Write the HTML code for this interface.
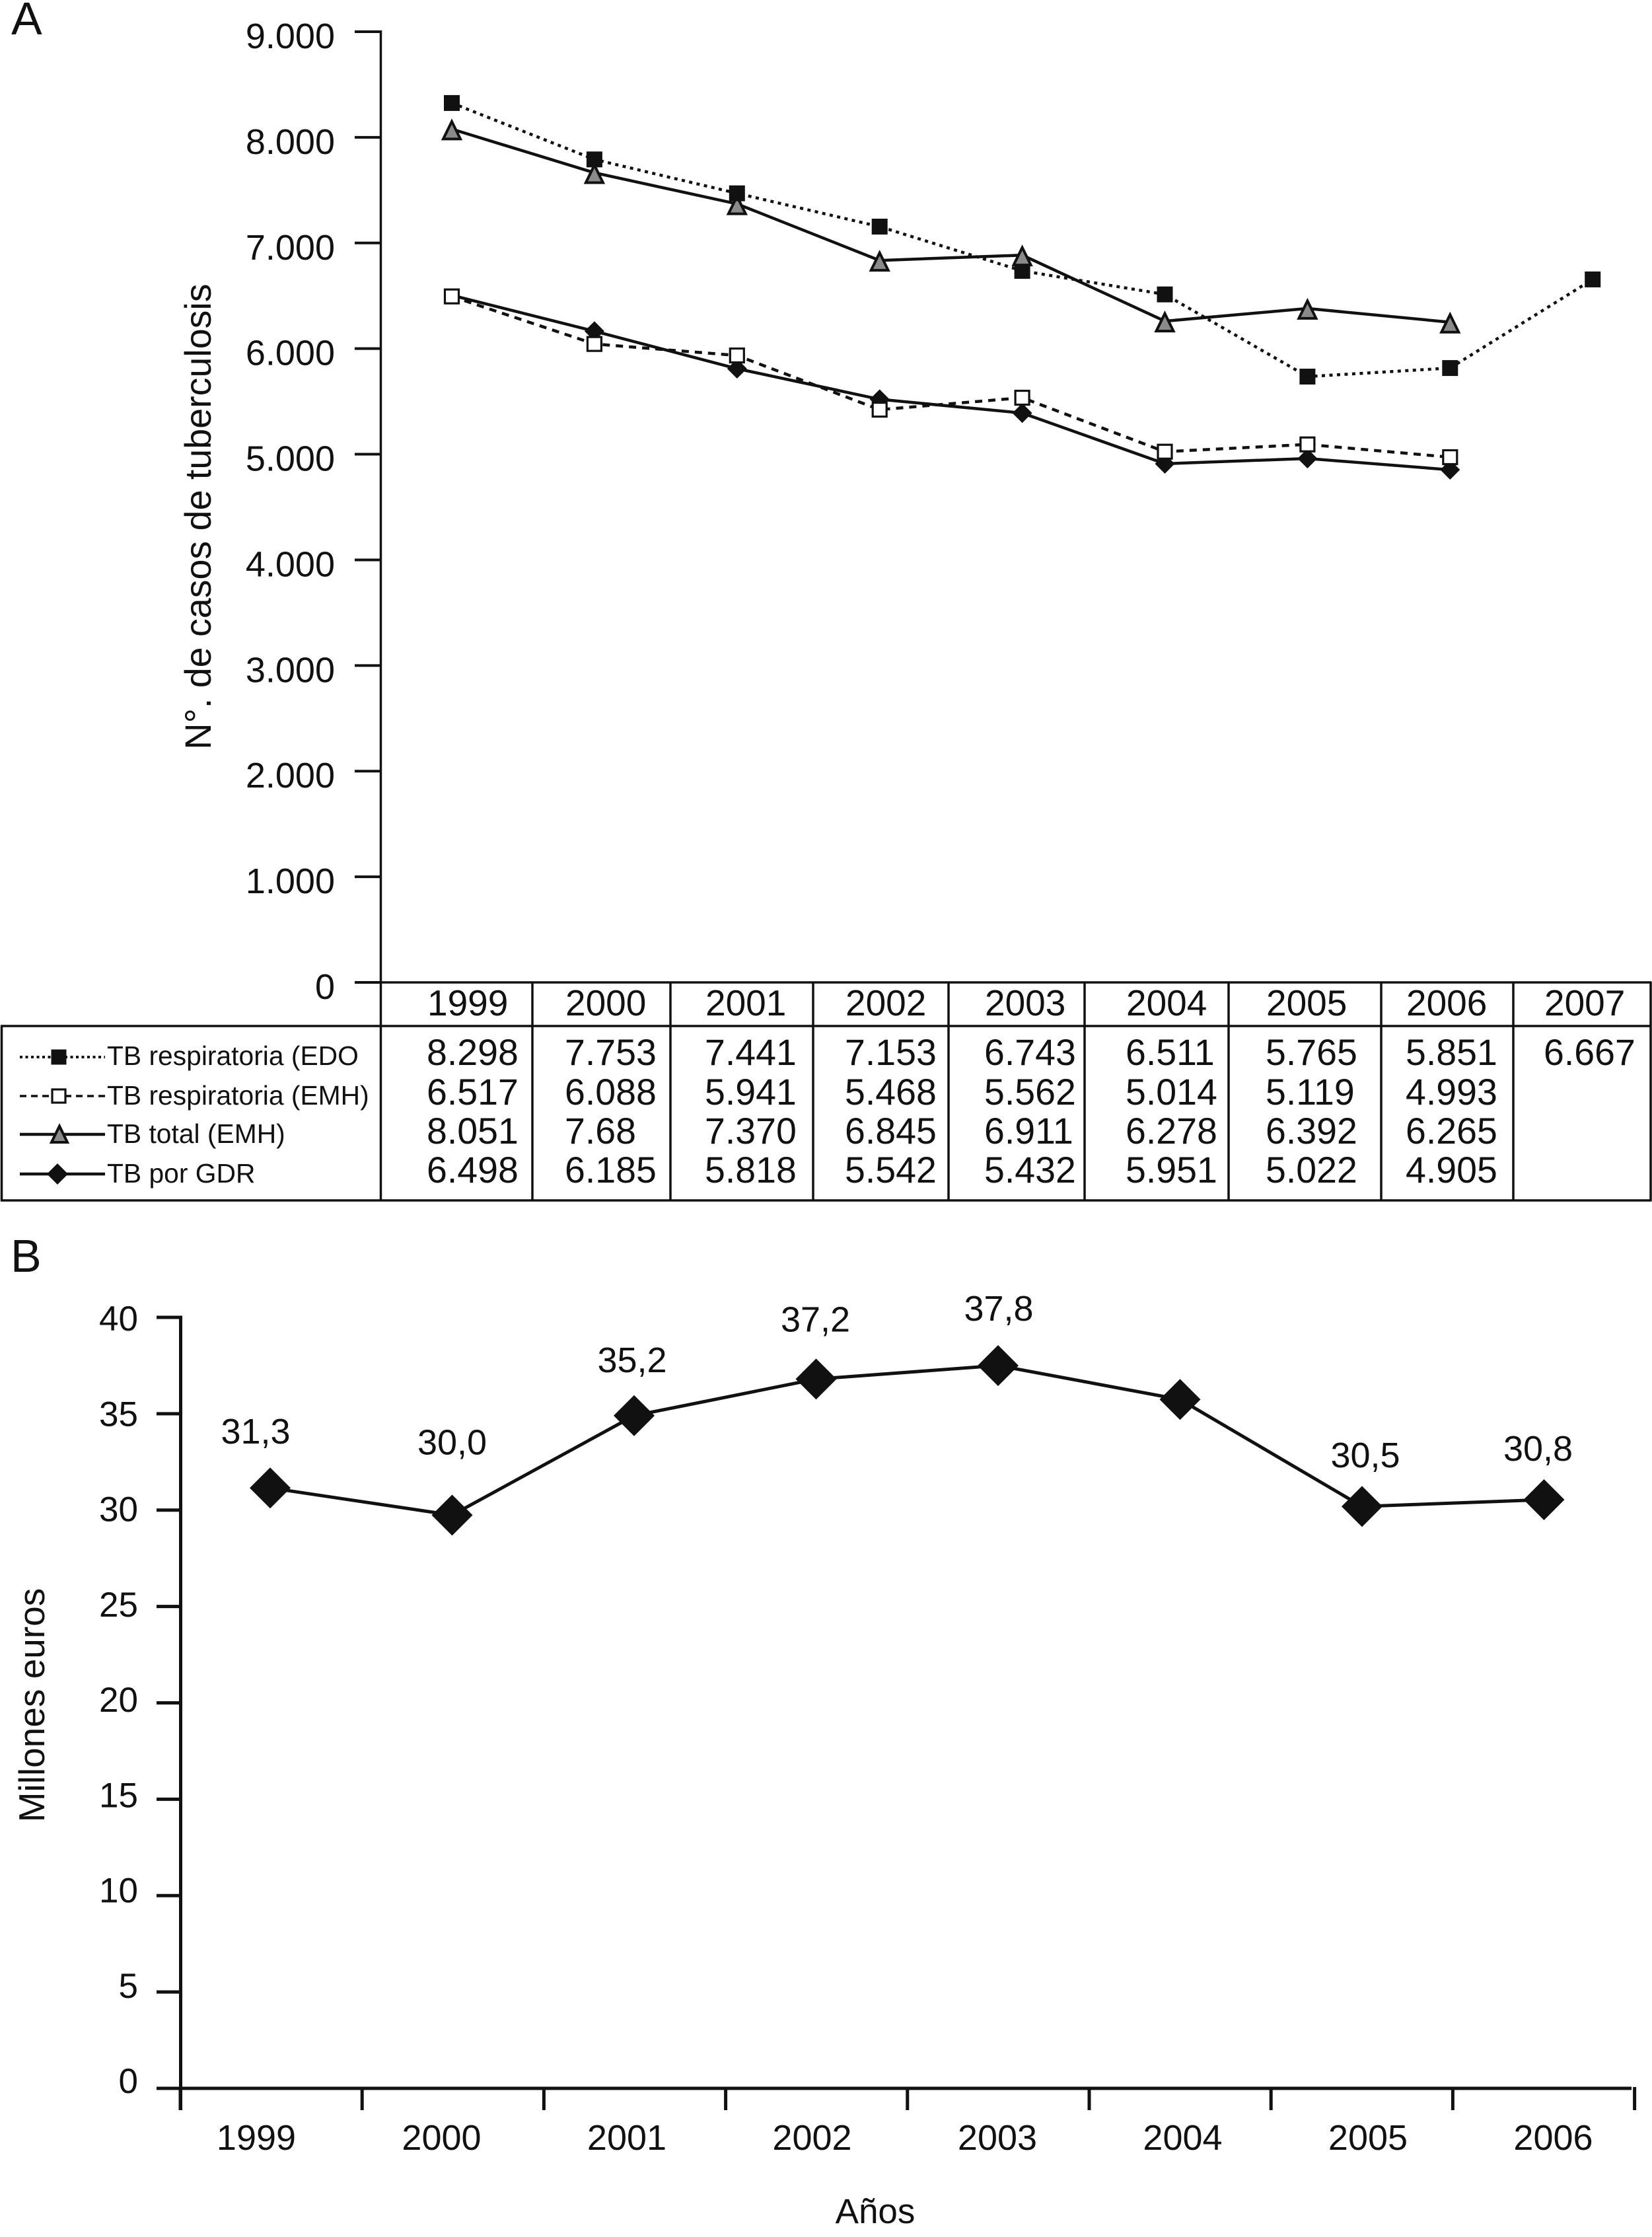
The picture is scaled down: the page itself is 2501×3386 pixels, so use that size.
<!DOCTYPE html>
<html lang="es">
<head>
<meta charset="utf-8">
<title>Tuberculosis cases and costs, 1999–2007</title>
<style>
  html, body { margin: 0; padding: 0; background: #fff; }
  svg { display: block; }
  text { font-family: "Liberation Sans", Arial, sans-serif; fill: #111; }
</style>
</head>
<body>
<svg id="figure" xmlns="http://www.w3.org/2000/svg" width="2501" height="3386" viewBox="0 0 2501 3386">
  <rect x="0" y="0" width="2501" height="3386" fill="#fff"/>
  <text x="17" y="52" font-size="70">A</text>
  <text x="16" y="1925" font-size="70">B</text>
  <text transform="translate(319 782) rotate(-90)" text-anchor="middle" font-size="55.6">N°. de casos de tuberculosis</text>
  <text transform="translate(67 2581) rotate(-90)" text-anchor="middle" font-size="55">Millones euros</text>
  <text x="1325" y="3365" text-anchor="middle" font-size="53">Años</text>
  <g id="panel-a"></g>
  <g id="panel-b"></g>
</svg>
<script>
// ---------- Panel A data ----------
const yearsA = ['1999', '2000', '2001', '2002', '2003', '2004', '2005', '2006', '2007'];
const ticksA = [0, 1000, 2000, 3000, 4000, 5000, 6000, 7000, 8000, 9000];
const tickLabelsA = ['0', '1.000', '2.000', '3.000', '4.000', '5.000', '6.000', '7.000', '8.000', '9.000'];
const respEdo = [8325, 7791, 7470, 7155, 6736, 6513, 5735, 5816, 6655];
const respEmh = [6494, 6044, 5935, 5422, 5535, 5024, 5093, 4972];
const totalEmh = [8078, 7665, 7370, 6835, 6885, 6260, 6380, 6250];
const porGdr = [6505, 6165, 5810, 5520, 5390, 4910, 4960, 4853];
// Values as printed in the data table
const tableRespEdo = ['8.298', '7.753', '7.441', '7.153', '6.743', '6.511', '5.765', '5.851', '6.667'];
const tableRespEmh = ['6.517', '6.088', '5.941', '5.468', '5.562', '5.014', '5.119', '4.993', ''];
const tableTotalEmh = ['8.051', '7.68', '7.370', '6.845', '6.911', '6.278', '6.392', '6.265', ''];
const tablePorGdr = ['6.498', '6.185', '5.818', '5.542', '5.432', '5.951', '5.022', '4.905', ''];
const legendLabels = ['TB respiratoria (EDO', 'TB respiratoria (EMH)', 'TB total (EMH)', 'TB por GDR'];

// ---------- Panel B data ----------
const yearsB = ['1999', '2000', '2001', '2002', '2003', '2004', '2005', '2006'];
const ticksB = [0, 5, 10, 15, 20, 25, 30, 35, 40];
const costs = [31.15, 29.74, 34.9, 36.8, 37.5, 35.74, 30.19, 30.54];
const costLabels = ['31,3', '30,0', '35,2', '37,2', '37,8', '', '30,5', '30,8'];

// ---------- Layout ----------
const INK = '#111';
const NS = 'http://www.w3.org/2000/svg';
const tableColumnEdges = [577, 806, 1015, 1231, 1436, 1642, 1860, 2091, 2291, 2499];
const tableTextInset = [69, 49, 52, 48, 54, 62, 56, 37, 46];
const rowBaselines = [1612, 1672, 1731, 1790];
const legendLineY = [1600, 1659, 1717, 1777];
const costLabelShiftX = [-22, 0, -3, -1, 1, 0, 5, -9];
const costLabelRise = [67, 92, 66, 72, 68, 0, 59, 59];

const xA = i => 684 + 215.9 * i;
const yA = v => 1487 - v * (1439 / 9000);
const xB = i => 409 + 275.5 * i;
const yB = v => 3161 - v * (1167 / 40);
const yTickLabelB = v => 3168 - v * (1154 / 40);
const xTickB = i => 273 + 275.2 * i;
const xLabelB = i => 388 + 280.5 * i;

function mk(parent, tag, attrs, txt) {
  const el = document.createElementNS(NS, tag);
  for (const k in attrs) el.setAttribute(k, attrs[k]);
  if (txt !== undefined) el.textContent = txt;
  parent.appendChild(el);
  return el;
}
function pts(values, xf, yf) {
  return values.map((v, i) => xf(i).toFixed(1) + ',' + yf(v).toFixed(1)).join(' ');
}
function drawSolidSquare(g, x, y, s) {
  return mk(g, 'rect', { x: x - s / 2, y: y - s / 2, width: s, height: s, fill: INK });
}
function drawOpenSquare(g, x, y, s) {
  return mk(g, 'rect', { x: x - s / 2 + 1.5, y: y - s / 2 + 1.5, width: s - 3, height: s - 3, fill: '#fff', stroke: INK, 'stroke-width': 3.2 });
}
function drawTriangle(g, x, y, r) {
  return mk(g, 'polygon', { points: [x, y - r + 1.5, x + r, y + r + 2, x - r, y + r + 2].join(' '), fill: '#8a8a8a', stroke: INK, 'stroke-width': 4 });
}
function drawDiamond(g, x, y, rx, ry) {
  return mk(g, 'polygon', { points: [x, y - ry, x + rx, y, x, y + ry, x - rx, y].join(' '), fill: INK });
}

// ---------- Panel A ----------
const a = document.getElementById('panel-a');

const axisA = mk(a, 'line', { x1: 576.5, y1: 46, x2: 576.5, y2: 1817, stroke: INK, 'stroke-width': 3.5 });



ticksA.forEach((t, i) => {
  const tick = mk(a, 'line', { x1: 537, y1: yA(t), x2: 577, y2: yA(t), stroke: INK, 'stroke-width': 4 });
  
  
  const lab = mk(a, 'text', { x: 507, y: yA(t) + 25, 'text-anchor': 'end', 'font-size': 54 }, tickLabelsA[i]);
  
  
});

const lineGdr = mk(a, 'polyline', { points: pts(porGdr, xA, yA), fill: 'none', stroke: INK, 'stroke-width': 4.5 });



const lineEmh = mk(a, 'polyline', { points: pts(respEmh, xA, yA), fill: 'none', stroke: INK, 'stroke-width': 4.5, 'stroke-dasharray': '11 9' });



const lineTotal = mk(a, 'polyline', { points: pts(totalEmh, xA, yA), fill: 'none', stroke: INK, 'stroke-width': 4.5 });



const lineEdo = mk(a, 'polyline', { points: pts(respEdo, xA, yA), fill: 'none', stroke: INK, 'stroke-width': 4.5, 'stroke-dasharray': '5 6.5' });



porGdr.forEach((v, i) => {
  // the first diamond sits entirely behind the open square in the source figure
  const r = i === 0 ? 10 : 15;
  const m = drawDiamond(a, xA(i), yA(v), r, r);
  
  
});
respEmh.forEach((v, i) => {
  const m = drawOpenSquare(a, xA(i), yA(v), 24);
  
  
});
// Triangles for 2000 and 2001 lie under the solid squares; the others lie on top.
totalEmh.forEach((v, i) => {
  if (i === 1 || i === 2) {
    const m = drawTriangle(a, xA(i), yA(v), 13);
    
    
  }
});
respEdo.forEach((v, i) => {
  const m = drawSolidSquare(a, xA(i), yA(v), 24);
  
  
});
totalEmh.forEach((v, i) => {
  if (i !== 1 && i !== 2) {
    const m = drawTriangle(a, xA(i), yA(v), 13);
    
    
  }
});

// Data table frame
const tableTop = mk(a, 'line', { x1: 576, y1: 1487, x2: 2500.5, y2: 1487, stroke: INK, 'stroke-width': 3.5 });



const tableHeaderRule = mk(a, 'line', { x1: 1, y1: 1553, x2: 2500.5, y2: 1553, stroke: INK, 'stroke-width': 3.5 });



const tableBottom = mk(a, 'line', { x1: 1, y1: 1817, x2: 2500.5, y2: 1817, stroke: INK, 'stroke-width': 3.5 });



const tableLeft = mk(a, 'line', { x1: 2.5, y1: 1553, x2: 2.5, y2: 1818, stroke: INK, 'stroke-width': 3.5 });



tableColumnEdges.slice(1).forEach(x => {
  const v = mk(a, 'line', { x1: x, y1: 1487, x2: x, y2: 1817, stroke: INK, 'stroke-width': 3.5 });
  
  
});

yearsA.forEach((yr, i) => {
  const tx = tableColumnEdges[i] + tableTextInset[i];
  const h = mk(a, 'text', { x: tx + 1, y: 1537, 'font-size': 55 }, yr);
  
  
  [tableRespEdo, tableRespEmh, tableTotalEmh, tablePorGdr].forEach((row, r) => {
    if (row[i]) {
      const c = mk(a, 'text', { x: tx, y: rowBaselines[r], 'font-size': 55.5 }, row[i]);
      
      
    }
  });
});

// Legend rows
const legendStyles = [
  { sw: 4, dash: '4 4.5' },
  { sw: 3.5, dash: '10 7' },
  { sw: 4.5, dash: '' },
  { sw: 4.5, dash: '' }
];
legendLabels.forEach((label, r) => {
  const attrs = { x1: 30, y1: legendLineY[r], x2: 159, y2: legendLineY[r], stroke: INK, 'stroke-width': legendStyles[r].sw };
  if (legendStyles[r].dash) attrs['stroke-dasharray'] = legendStyles[r].dash;
  const ln = mk(a, 'line', attrs);
  
  
  let mark;
  if (r === 0) mark = drawSolidSquare(a, 89, legendLineY[r], 23);
  if (r === 1) mark = drawOpenSquare(a, 89, legendLineY[r], 23);
  if (r === 2) mark = drawTriangle(a, 90, legendLineY[r] - 2, 12);
  if (r === 3) mark = drawDiamond(a, 87, legendLineY[r], 16, 16);
  
  
  const t = mk(a, 'text', { x: 162, y: rowBaselines[r] - (r === 2 ? 1 : 0), 'font-size': 40.8 }, label);
  
  
});

// ---------- Panel B ----------
const b = document.getElementById('panel-b');

const axisYB = mk(b, 'line', { x1: 273.5, y1: 1991.5, x2: 273.5, y2: 3194, stroke: INK, 'stroke-width': 5 });



const axisXB = mk(b, 'line', { x1: 237, y1: yB(0), x2: 2470, y2: yB(0), stroke: INK, 'stroke-width': 5 });



ticksB.forEach(t => {
  const tick = mk(b, 'line', { x1: 237, y1: yB(t), x2: 274, y2: yB(t), stroke: INK, 'stroke-width': 5 });
  
  
  const lab = mk(b, 'text', { x: 209, y: yTickLabelB(t), 'text-anchor': 'end', 'font-size': 53 }, String(t));
  
  
});

for (let i = 0; i <= yearsB.length; i++) {
  const tick = mk(b, 'line', { x1: xTickB(i), y1: yB(0) - 2, x2: xTickB(i), y2: 3194, stroke: INK, 'stroke-width': 5 });
  
  
}

yearsB.forEach((yr, i) => {
  const lab = mk(b, 'text', { x: xLabelB(i), y: 3254, 'text-anchor': 'middle', 'font-size': 54 }, yr);
  
  
});

const lineCost = mk(b, 'polyline', { points: pts(costs, xB, yB), fill: 'none', stroke: INK, 'stroke-width': 5 });



costs.forEach((v, i) => {
  const m = drawDiamond(b, xB(i), yB(v), 31, 31);
  
  
  if (costLabels[i]) {
    const t = mk(b, 'text', { x: xB(i) + costLabelShiftX[i], y: yB(v) - costLabelRise[i], 'text-anchor': 'middle', 'font-size': 54 }, costLabels[i]);
    
    
  }
});
</script>
</body>
</html>
